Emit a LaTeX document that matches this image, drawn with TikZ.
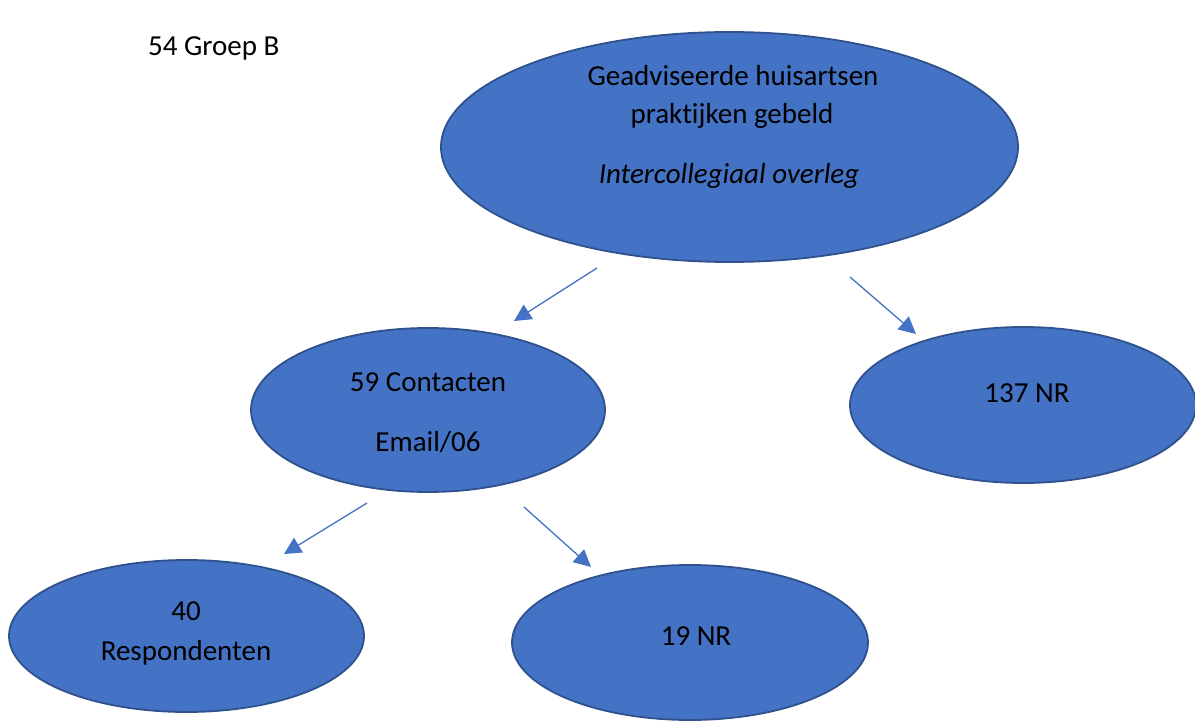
\documentclass[tikz,border=0pt]{standalone}
\usepackage{fontspec}
\setmainfont{Carlito}[Ligatures={NoCommon}]
\usetikzlibrary{shapes.geometric,arrows.meta}
\definecolor{fillblue}{HTML}{4472C4}
\definecolor{edgeblue}{HTML}{2F528F}
\definecolor{arrowblue}{HTML}{4472C4}
\tikzset{
  oval/.style={ellipse, fill=fillblue, draw=edgeblue, line width=1.8pt, inner sep=0pt},
  lbl/.style={font=\fontsize{29}{35}\selectfont, text=black, inner sep=0pt, anchor=center},
  conn/.style={draw=arrowblue, line width=1.3pt, -{Triangle[length=17pt,width=17pt]}},
}
\begin{document}
\begin{tikzpicture}[x=1pt,y=-1pt]
\useasboundingbox (0,0) rectangle (1195,722);
% ellipses
\node[oval, minimum width=577pt, minimum height=230pt] (top) at (729.5,147) {};
\node[oval, minimum width=354pt, minimum height=164pt] (cont) at (428,410) {};
\node[oval, minimum width=346pt, minimum height=156pt] (nr1) at (1023,405) {};
\node[oval, minimum width=355pt, minimum height=152pt] (resp) at (186.5,636) {};
\node[oval, minimum width=356pt, minimum height=155pt] (nr2) at (690,642.5) {};
% texts
\node[lbl, anchor=base west] (groep) at (148,56) {54 Groep B};
\node[lbl] (t1) at (733,76) {Geadviseerde huisartsen};
\node[lbl] (t2) at (732,116) {praktijken gebeld};
\node[lbl, font=\fontsize{29}{35}\selectfont\itshape] (t3) at (729,176) {Intercollegiaal overleg};
\node[lbl] (c1) at (428,382) {59 Contacten};
\node[lbl] (c2) at (428,442) {Email/06};
\node[lbl] (n1) at (1027,393) {137 NR};
\node[lbl] (r1) at (186,611) {40};
\node[lbl] (r2) at (186,653) {Respondenten};
\node[lbl] (n2) at (696,636) {19 NR};
% arrow coordinates
\coordinate (a1s) at (597,268); \coordinate (a1e) at (514,321);
\coordinate (a2s) at (850,277); \coordinate (a2e) at (916,334);
\coordinate (a3s) at (367,503); \coordinate (a3e) at (284,554);
\coordinate (a4s) at (524,507); \coordinate (a4e) at (591,567);
\draw[conn] (a1s) -- (a1e);
\draw[conn] (a2s) -- (a2e);
\draw[conn] (a3s) -- (a3e);
\draw[conn] (a4s) -- (a4e);
\end{tikzpicture}
\end{document}
